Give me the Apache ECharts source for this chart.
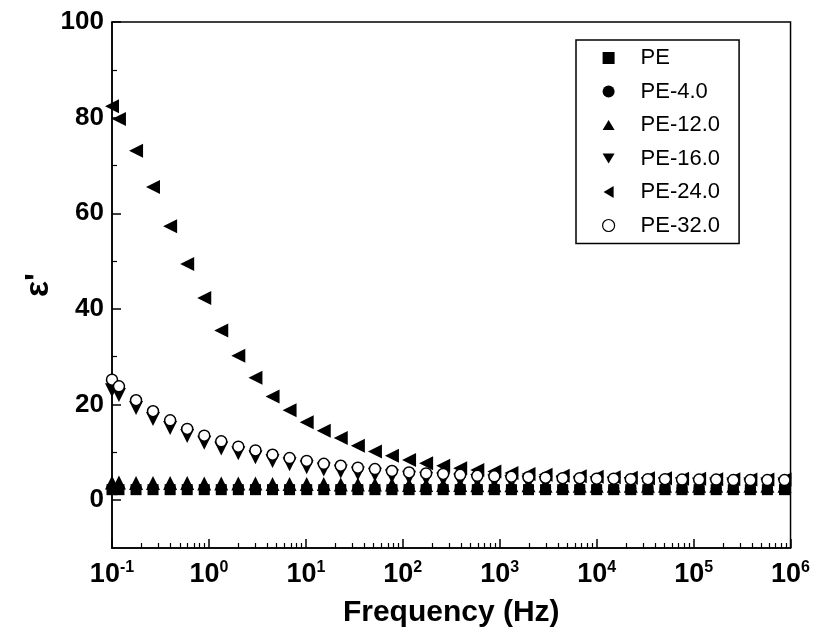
<!DOCTYPE html>
<html><head><meta charset="utf-8">
<script src="https://cdn.jsdelivr.net/npm/echarts@6/dist/echarts.min.js"></script>
<style>html,body{margin:0;padding:0;background:#fff}#c{width:813px;height:636px}</style>
</head><body><div id="c"></div>
<script>
// Frequencies (Hz)
const freq = [0.1, 0.118, 0.177, 0.265, 0.398, 0.597, 0.895, 1.34, 2.01, 3.02, 4.53, 6.79, 10.2, 15.3, 22.9, 34.4, 51.6, 77.3, 116, 174, 261, 391, 587, 880, 1320, 1980, 2970, 4460, 6690, 10000, 15000, 22500, 33800, 50700, 76000, 114000, 171000, 257000, 385000, 577000, 866000];
// Series values (epsilon')
const pe = [2.2, 2.2, 2.2, 2.2, 2.2, 2.2, 2.2, 2.2, 2.2, 2.2, 2.2, 2.2, 2.2, 2.2, 2.2, 2.2, 2.2, 2.2, 2.2, 2.2, 2.2, 2.2, 2.2, 2.2, 2.2, 2.2, 2.2, 2.2, 2.2, 2.2, 2.2, 2.2, 2.2, 2.2, 2.2, 2.2, 2.2, 2.2, 2.2, 2.2, 2.2];
const pe4 = [2.5, 2.5, 2.5, 2.5, 2.5, 2.5, 2.5, 2.5, 2.5, 2.5, 2.5, 2.5, 2.5, 2.5, 2.5, 2.5, 2.5, 2.5, 2.5, 2.5, 2.5, 2.5, 2.5, 2.5, 2.5, 2.5, 2.5, 2.5, 2.5, 2.5, 2.5, 2.5, 2.5, 2.5, 2.5, 2.5, 2.5, 2.5, 2.5, 2.5, 2.5];
const pe12 = [3.7, 3.7, 3.6, 3.6, 3.6, 3.6, 3.5, 3.5, 3.5, 3.5, 3.4, 3.4, 3.4, 3.4, 3.3, 3.3, 3.3, 3.3, 3.2, 3.2, 3.2, 3.2, 3.1, 3.1, 3.1, 3.1, 3.0, 3.0, 3.0, 3.0, 3.0, 3.0, 3.0, 3.0, 3.0, 3.0, 3.0, 3.0, 3.0, 3.0, 3.0];
const pe16 = [23.0, 22.0, 19.3, 17.0, 15.1, 13.4, 12.0, 10.8, 9.8, 9.0, 8.2, 7.5, 6.9, 6.4, 6.0, 5.6, 5.3, 5.0, 4.7, 4.5, 4.3, 4.1, 4.0, 3.9, 3.8, 3.7, 3.6, 3.6, 3.5, 3.5, 3.5, 3.4, 3.4, 3.4, 3.4, 3.3, 3.3, 3.3, 3.3, 3.3, 3.3];
const pe24 = [82.4, 79.7, 73.1, 65.5, 57.3, 49.4, 42.3, 35.5, 30.2, 25.6, 21.7, 18.8, 16.3, 14.5, 13.0, 11.4, 10.2, 9.3, 8.4, 7.7, 7.2, 6.7, 6.3, 6.0, 5.7, 5.5, 5.3, 5.1, 5.0, 4.9, 4.8, 4.7, 4.6, 4.6, 4.5, 4.5, 4.4, 4.4, 4.3, 4.3, 4.3];
const pe32 = [25.2, 23.8, 20.9, 18.6, 16.7, 14.9, 13.5, 12.3, 11.2, 10.4, 9.5, 8.8, 8.2, 7.6, 7.2, 6.8, 6.5, 6.1, 5.8, 5.6, 5.5, 5.3, 5.1, 5.0, 4.9, 4.8, 4.7, 4.6, 4.6, 4.5, 4.5, 4.4, 4.4, 4.4, 4.3, 4.3, 4.3, 4.2, 4.2, 4.2, 4.2];
const seriesNames = ['PE', 'PE-4.0', 'PE-12.0', 'PE-16.0', 'PE-24.0', 'PE-32.0'];
// Tick labels
const yTickLabels = [0, 20, 40, 60, 80, 100];
const yMinorTicks = [10, 30, 50, 70, 90];
const xDecadeExponents = [-1, 0, 1, 2, 3, 4, 5];

const xMinorTicks = [];
xDecadeExponents.forEach(d => { for (let k = 2; k <= 9; k++) xMinorTicks.push(d + Math.log10(k)); });

const FF = '"Liberation Sans", Arial, sans-serif';
const pair = arr => arr.map((v, i) => [freq[i], v]);
const BLACK = {color: '#000', opacity: 1};

const ICON_DOWN = 'path://M0,1 L12,1 L6,11 Z';
const ICON_LEFT = 'path://M11,0 L11,12 L1,6 Z';
const ICON_UP = 'path://M6,1 L12,11 L0,11 Z';

const chart = echarts.init(document.getElementById('c'), null, {renderer: 'canvas'});
const base = {type: 'scatter', xAxisIndex: 0, yAxisIndex: 0, emphasis: {disabled: true}, z: 3};
chart.setOption({
  animation: false,
  backgroundColor: '#fff',
  grid: {left: 112, right: 21, top: 22, bottom: 88, show: true, borderColor: '#000', borderWidth: 1.5, backgroundColor: 'transparent'},
  legend: {
    orient: 'vertical', left: 576, top: 40,
    padding: [7, 19, 7, 26], itemWidth: 12, itemHeight: 12, itemGap: 11.5,
    borderColor: '#000', borderWidth: 1.5, borderRadius: 0,
    textStyle: {fontFamily: FF, fontSize: 22, color: '#000', lineHeight: 22, padding: [0, 0, 0, 21]},
    data: [
      {name: 'PE', icon: 'path://M0,0 L8,0 L8,8 L0,8 Z', itemStyle: BLACK},
      {name: 'PE-4.0', icon: 'circle', itemStyle: BLACK},
      {name: 'PE-12.0', icon: ICON_UP, itemStyle: BLACK},
      {name: 'PE-16.0', icon: ICON_DOWN, itemStyle: BLACK},
      {name: 'PE-24.0', icon: ICON_LEFT, itemStyle: BLACK},
      {name: 'PE-32.0', icon: 'circle', itemStyle: {color: '#fff', borderColor: '#000', borderWidth: 1.2, opacity: 1}}
    ]
  },
  xAxis: [{
    type: 'log', logBase: 10, min: 0.1, max: 1e6, splitNumber: 7,
    axisLine: {show: true, onZero: false, lineStyle: {color: '#000', width: 1.5}},
    axisTick: {show: true, inside: true, length: 9, lineStyle: {color: '#000', width: 1.5}},
    splitLine: {show: false}, minorTick: {show: false},
    axisLabel: {
      margin: 12, color: '#000',
      formatter: v => '{b|10}{s|' + Math.round(Math.log10(v)) + '}',
      rich: {
        b: {fontFamily: FF, fontSize: 27, fontWeight: 'bold', color: '#000', lineHeight: 30},
        s: {fontFamily: FF, fontSize: 16, fontWeight: 'bold', color: '#000', lineHeight: 16, verticalAlign: 'top'}
      }
    },
    name: 'Frequency (Hz)', nameLocation: 'middle', nameGap: 50, nameMoveOverlap: false,
    nameTextStyle: {fontFamily: FF, fontSize: 30, fontWeight: 'bold', color: '#000'}
  }, {
    type: 'value', min: -1, max: 6, position: 'bottom', offset: 0,
    axisLine: {show: false, onZero: false}, splitLine: {show: false}, axisLabel: {show: false},
    axisTick: {show: true, inside: true, length: 5, customValues: xMinorTicks, lineStyle: {color: '#000', width: 1.2}}
  }],
  yAxis: [{
    type: 'value', min: -10, max: 100, position: 'left',
    axisLine: {show: true, onZero: false, lineStyle: {color: '#000', width: 1.5}},
    axisTick: {show: true, inside: true, length: 9, customValues: yTickLabels, lineStyle: {color: '#000', width: 1.5}},
    splitLine: {show: false},
    axisLabel: {margin: 8, customValues: yTickLabels, fontFamily: FF, fontSize: 26, fontWeight: 'bold', color: '#000'},
    name: "ε'", nameLocation: 'middle', nameGap: 56, nameRotate: 90, nameMoveOverlap: false,
    nameTextStyle: {fontFamily: FF, fontSize: 34, fontWeight: 'bold', color: '#000'}
  }, {
    type: 'value', min: -10, max: 100, position: 'left', offset: 0,
    axisLine: {show: false, onZero: false}, splitLine: {show: false}, axisLabel: {show: false},
    axisTick: {show: true, inside: true, length: 5, customValues: yMinorTicks, lineStyle: {color: '#000', width: 1.2}}
  }],
  series: [
    Object.assign({}, base, {name: 'PE', data: pair(pe), symbol: 'rect', symbolSize: 11, itemStyle: BLACK}),
    Object.assign({}, base, {name: 'PE-4.0', data: pair(pe4), symbol: 'circle', symbolSize: 11, itemStyle: BLACK}),
    Object.assign({}, base, {name: 'PE-12.0', data: pair(pe12), symbol: 'triangle', symbolSize: 14, itemStyle: BLACK}),
    Object.assign({}, base, {name: 'PE-16.0', data: pair(pe16), symbol: 'triangle', symbolSize: 14, symbolRotate: 180, itemStyle: BLACK}),
    Object.assign({}, base, {name: 'PE-24.0', data: pair(pe24), symbol: 'triangle', symbolSize: 14, symbolRotate: 90, itemStyle: BLACK}),
    Object.assign({}, base, {name: 'PE-32.0', data: pair(pe32), symbol: 'circle', symbolSize: 11, itemStyle: {color: '#fff', borderColor: '#000', borderWidth: 1.5, opacity: 1}})
  ]
});
</script></body></html>
